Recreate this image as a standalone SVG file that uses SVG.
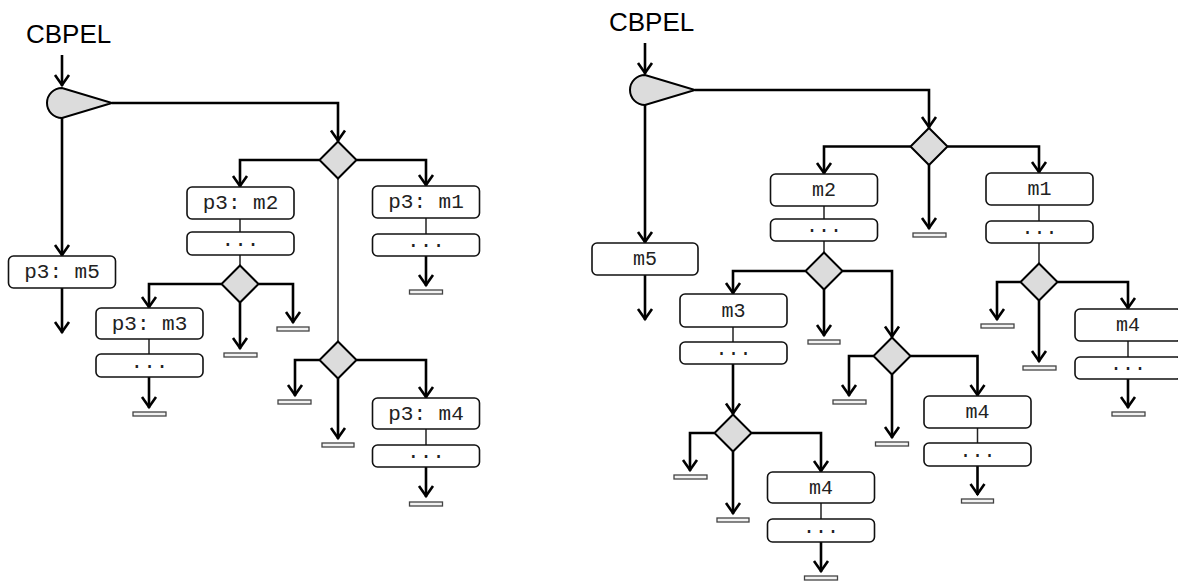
<svg xmlns="http://www.w3.org/2000/svg" width="1178" height="581" viewBox="0 0 1178 581">
  <style>
    .title { font-family: "Liberation Sans", Arial, sans-serif; font-size: 26px; fill: #000; }
    .lbl { font-family: "Liberation Mono", "Courier New", monospace; font-size: 21px; fill: #222; text-anchor: middle; }
    .lbl2 { font-family: "Liberation Mono", "Courier New", monospace; font-size: 20px; fill: #222; text-anchor: middle; }
    .box { fill: #fff; stroke: #111; stroke-width: 1.6; }
    .dia { fill: #dcdcdc; stroke: #000; stroke-width: 2; stroke-linejoin: miter; }
    .start { fill: #dcdcdc; stroke: #000; stroke-width: 2; }
    .bar { fill: #f2f2f2; stroke: #444; stroke-width: 1.3; }
    .thick { fill: none; stroke: #000; stroke-width: 2.6; }
    .arr { fill: none; stroke: #000; stroke-width: 2.6; marker-end: url(#ah); }
    .thin { fill: none; stroke: #222; stroke-width: 1.5; }
  </style>
  <defs>
    <marker id="ah" markerUnits="userSpaceOnUse" viewBox="-14 -10 16 20" markerWidth="16" markerHeight="20" refX="0" refY="0" orient="auto" overflow="visible">
      <path d="M-11,-7 L-1,0 L-11,7" fill="none" stroke="#000" stroke-width="2.6"/>
    </marker>
  </defs>
  <rect width="1178" height="581" fill="#fff"/>

  <!-- ===== left process ===== -->
  <g id="connectors-left">
    <path class="arr" d="M62,55 V86"/>
    <path class="arr" d="M62,118 V256"/>
    <path class="arr" d="M62,288 V333"/>
    <path class="arr" d="M112,103 H338 V141.5"/>
    <path class="arr" d="M319.5,160 H240 V187"/>
    <path class="arr" d="M356.5,160 H426 V186"/>
    <path class="thin" d="M338,178.5 V341.5"/>
    <path class="thin" d="M240,219 V232 M240,255 V265.5"/>
    <path class="arr" d="M221.5,284 H149 V308"/>
    <path class="arr" d="M240,302.5 V349"/>
    <path class="arr" d="M258.5,284 H293 V323"/>
    <path class="thin" d="M149,339 V354"/>
    <path class="arr" d="M149,377 V408"/>
    <path class="thin" d="M426,218 V234"/>
    <path class="arr" d="M426,256 V286"/>
    <path class="arr" d="M319.5,360 H295 V396"/>
    <path class="arr" d="M338,378.5 V439"/>
    <path class="arr" d="M356.5,360 H426 V398"/>
    <path class="thin" d="M426,429 V445"/>
    <path class="arr" d="M426,467 V497"/>
  </g>

  <g id="title-left"><text class="title" x="26" y="43">CBPEL</text></g>
  <g id="start-left"><path class="start" d="M62,88 A15,15 0 0 0 62,118 L112,103 Z"/></g>

  <g id="l-m5"><rect class="box" x="8.5" y="256" width="107" height="32" rx="5"/><text class="lbl" x="62" y="278">p3: m5</text></g>

  <g id="l-d1"><polygon class="dia" points="338,141.5 356.5,160 338,178.5 319.5,160"/></g>

  <g id="l-m2"><rect class="box" x="187" y="187" width="107" height="32" rx="5"/><text class="lbl" x="240.5" y="209">p3: m2</text></g>
  <g id="l-m2-body"><rect class="box" x="187" y="232" width="107" height="23" rx="5"/><text class="lbl" x="240.5" y="246">...</text></g>

  <g id="l-m1"><rect class="box" x="372.5" y="186" width="107" height="32" rx="5"/><text class="lbl" x="426" y="208">p3: m1</text></g>
  <g id="l-m1-body"><rect class="box" x="372.5" y="234" width="107" height="22" rx="5"/><text class="lbl" x="426" y="247">...</text></g>
  <g id="l-m1-end"><rect class="bar" x="409.5" y="290" width="33" height="4"/></g>

  <g id="l-d2"><polygon class="dia" points="240,265.5 258.5,284 240,302.5 221.5,284"/></g>
  <g id="l-d2-end-mid"><rect class="bar" x="224" y="353" width="33" height="4"/></g>
  <g id="l-d2-end-right"><rect class="bar" x="277" y="327" width="32" height="4"/></g>

  <g id="l-m3"><rect class="box" x="96" y="308" width="107" height="31" rx="5"/><text class="lbl" x="149.5" y="330">p3: m3</text></g>
  <g id="l-m3-body"><rect class="box" x="96" y="354" width="107" height="23" rx="5"/><text class="lbl" x="149.5" y="368">...</text></g>
  <g id="l-m3-end"><rect class="bar" x="133" y="412" width="33" height="4"/></g>

  <g id="l-d3"><polygon class="dia" points="338,341.5 356.5,360 338,378.5 319.5,360"/></g>
  <g id="l-d3-end-left"><rect class="bar" x="278" y="400" width="33" height="4"/></g>
  <g id="l-d3-end-mid"><rect class="bar" x="322" y="443" width="32" height="4"/></g>

  <g id="l-m4"><rect class="box" x="372.5" y="398" width="107" height="31" rx="5"/><text class="lbl" x="426" y="420">p3: m4</text></g>
  <g id="l-m4-body"><rect class="box" x="372.5" y="445" width="107" height="22" rx="5"/><text class="lbl" x="426" y="458">...</text></g>
  <g id="l-m4-end"><rect class="bar" x="409.5" y="502" width="33" height="4"/></g>

  <!-- ===== right process ===== -->
  <g id="connectors-right">
    <path class="arr" d="M645,43 V74"/>
    <path class="arr" d="M645,105 V243"/>
    <path class="arr" d="M645,275 V320"/>
    <path class="arr" d="M695,90 H929 V128"/>
    <path class="arr" d="M910.5,146.5 H824 V174"/>
    <path class="arr" d="M947.5,146.5 H1039 V173"/>
    <path class="arr" d="M929,165 V229"/>
    <path class="thin" d="M824,206 V219 M824,241 V252.5"/>
    <path class="arr" d="M805.5,271 H733 V294"/>
    <path class="arr" d="M824,289.5 V336"/>
    <path class="arr" d="M842.5,271 H892 V337.5"/>
    <path class="thin" d="M733,327 V342"/>
    <path class="arr" d="M733,364 V414.5"/>
    <path class="arr" d="M714.5,433 H690 V471"/>
    <path class="arr" d="M733,451.5 V514"/>
    <path class="arr" d="M751.5,433 H821 V472"/>
    <path class="thin" d="M821,503 V519"/>
    <path class="arr" d="M821,542 V572"/>
    <path class="arr" d="M873.5,356 H849 V396"/>
    <path class="arr" d="M892,374.5 V438"/>
    <path class="arr" d="M910.5,356 H977.5 V396"/>
    <path class="thin" d="M977.5,428 V443"/>
    <path class="arr" d="M977.5,466 V495"/>
    <path class="thin" d="M1039,205 V221 M1039,243 V263.5"/>
    <path class="arr" d="M1020.5,282 H997 V320"/>
    <path class="arr" d="M1039,300.5 V362"/>
    <path class="arr" d="M1057.5,282 H1128 V309"/>
    <path class="thin" d="M1128,341 V357"/>
    <path class="arr" d="M1128,379 V408"/>
  </g>

  <g id="title-right"><text class="title" x="609" y="31">CBPEL</text></g>
  <g id="start-right"><path class="start" d="M645,75 A15,15 0 0 0 645,105 L695,90 Z"/></g>

  <g id="r-m5"><rect class="box" x="592" y="243" width="106" height="32" rx="5"/><text class="lbl2" x="645" y="265">m5</text></g>

  <g id="r-d1"><polygon class="dia" points="929,128 947.5,146.5 929,165 910.5,146.5"/></g>
  <g id="r-d1-end"><rect class="bar" x="913" y="233" width="33" height="4"/></g>

  <g id="r-m2"><rect class="box" x="770.5" y="174" width="107" height="32" rx="5"/><text class="lbl2" x="824" y="196">m2</text></g>
  <g id="r-m2-body"><rect class="box" x="770.5" y="219" width="107" height="22" rx="5"/><text class="lbl2" x="824" y="232">...</text></g>

  <g id="r-d2"><polygon class="dia" points="824,252.5 842.5,271 824,289.5 805.5,271"/></g>
  <g id="r-d2-end"><rect class="bar" x="808" y="340" width="32" height="4"/></g>

  <g id="r-m3"><rect class="box" x="680" y="294" width="107" height="33" rx="5"/><text class="lbl2" x="733.5" y="317">m3</text></g>
  <g id="r-m3-body"><rect class="box" x="680" y="342" width="107" height="22" rx="5"/><text class="lbl2" x="733.5" y="355">...</text></g>

  <g id="r-d4"><polygon class="dia" points="733,414.5 751.5,433 733,451.5 714.5,433"/></g>
  <g id="r-d4-end-left"><rect class="bar" x="674" y="475" width="33" height="4"/></g>
  <g id="r-d4-end-mid"><rect class="bar" x="717" y="518" width="32" height="4"/></g>

  <g id="r-m4a"><rect class="box" x="767.5" y="472" width="107" height="31" rx="5"/><text class="lbl2" x="821" y="494">m4</text></g>
  <g id="r-m4a-body"><rect class="box" x="767.5" y="519" width="107" height="23" rx="5"/><text class="lbl2" x="821" y="533">...</text></g>
  <g id="r-m4a-end"><rect class="bar" x="804.5" y="576" width="33" height="4"/></g>

  <g id="r-d5"><polygon class="dia" points="892,337.5 910.5,356 892,374.5 873.5,356"/></g>
  <g id="r-d5-end-left"><rect class="bar" x="833" y="400" width="33" height="4"/></g>
  <g id="r-d5-end-mid"><rect class="bar" x="875.5" y="442" width="33" height="4"/></g>

  <g id="r-m4b"><rect class="box" x="924" y="396" width="107" height="32" rx="5"/><text class="lbl2" x="977.5" y="418">m4</text></g>
  <g id="r-m4b-body"><rect class="box" x="924" y="443" width="107" height="23" rx="5"/><text class="lbl2" x="977.5" y="457">...</text></g>
  <g id="r-m4b-end"><rect class="bar" x="961.5" y="499" width="32" height="4"/></g>

  <g id="r-m1"><rect class="box" x="986" y="173" width="107" height="32" rx="5"/><text class="lbl2" x="1039.5" y="195">m1</text></g>
  <g id="r-m1-body"><rect class="box" x="986" y="221" width="107" height="22" rx="5"/><text class="lbl2" x="1039.5" y="234">...</text></g>

  <g id="r-d6"><polygon class="dia" points="1039,263.5 1057.5,282 1039,300.5 1020.5,282"/></g>
  <g id="r-d6-end-left"><rect class="bar" x="981" y="324" width="33" height="4"/></g>
  <g id="r-d6-end-mid"><rect class="bar" x="1023" y="366" width="33" height="4"/></g>

  <g id="r-m4c"><rect class="box" x="1075" y="309" width="107" height="32" rx="5"/><text class="lbl2" x="1128" y="331">m4</text></g>
  <g id="r-m4c-body"><rect class="box" x="1075" y="357" width="107" height="22" rx="5"/><text class="lbl2" x="1128" y="370">...</text></g>
  <g id="r-m4c-end"><rect class="bar" x="1112" y="412" width="33" height="4"/></g>
</svg>
